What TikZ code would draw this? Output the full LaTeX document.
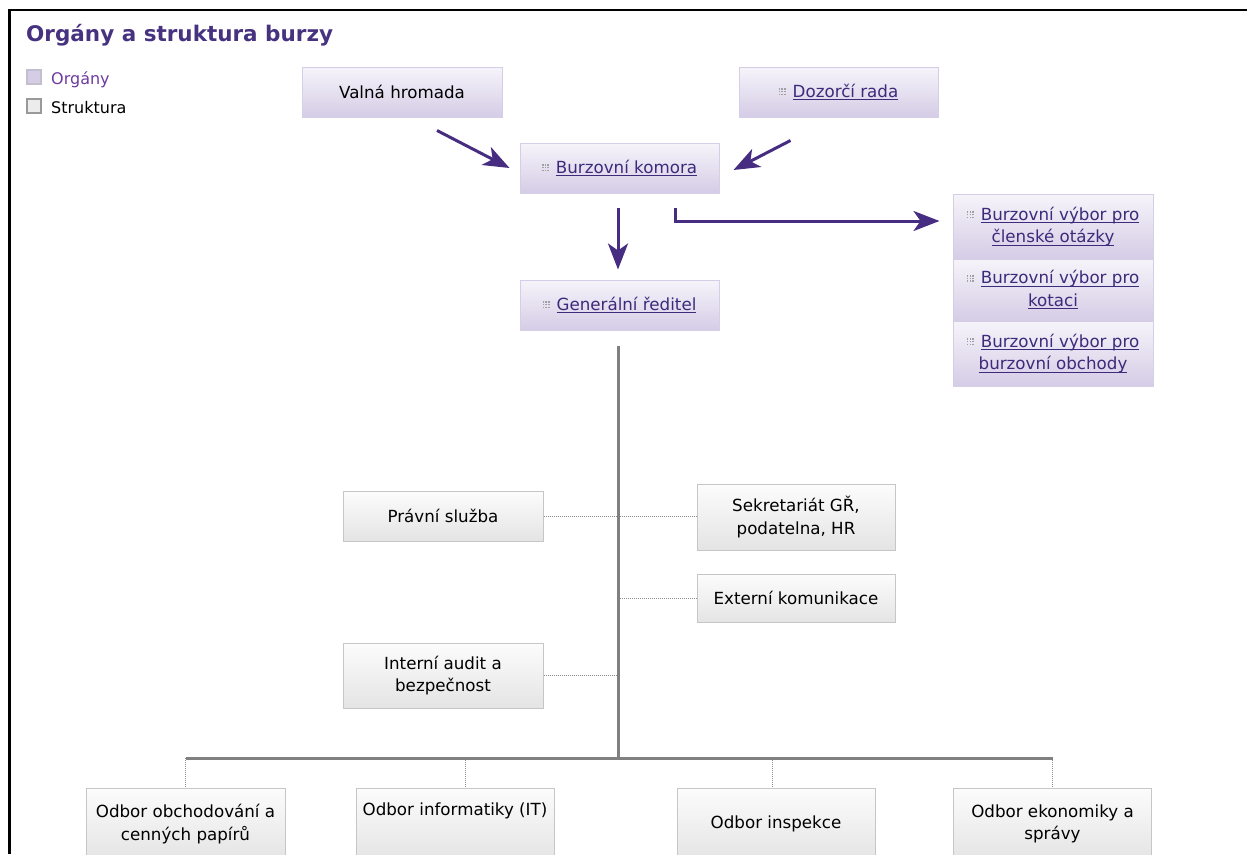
\documentclass[tikz,border=0pt]{standalone}
\usepackage{fontspec}
\setmainfont{DejaVu Sans}
\usetikzlibrary{arrows.meta,calc}
\definecolor{orgtop}{HTML}{F6F4FA}
\definecolor{orgbot}{HTML}{D5CCE6}
\definecolor{orgline}{HTML}{D6CEE6}
\definecolor{strtop}{HTML}{FCFCFC}
\definecolor{strbot}{HTML}{E4E4E4}
\definecolor{strline}{HTML}{C6C6C6}
\definecolor{arrc}{HTML}{472D82}
\definecolor{linkc}{HTML}{3D2A7A}
\definecolor{titlec}{HTML}{46327F}
\definecolor{legc}{HTML}{6E3A9E}
\definecolor{iconc}{HTML}{A0A0A0}
\definecolor{trunkc}{HTML}{808080}
\definecolor{dotc}{HTML}{8C8C8C}
\newcommand\bodyfont{\fontsize{16.7}{22.5}\selectfont}
\newcommand\legfont{\fontsize{16}{20}\selectfont}
\newcommand\gdot{\rule{1.6pt}{1.6pt}}
\newcommand\grow{\hbox{\gdot\kern1.1pt\gdot\kern1.1pt\gdot}}
\newcommand\gicon{\raisebox{2pt}{\textcolor{iconc}{\vbox{\offinterlineskip\grow\kern1.1pt\grow\kern1.1pt\grow}}}\hspace{7pt}}
\newcommand\lnk[1]{\textcolor{linkc}{\setbox0\hbox{#1}\rlap{\rule[-3pt]{\wd0}{1.1pt}}\box0}}
\begin{document}
\begin{tikzpicture}[x=1pt,y=-1pt,
  orgbox/.style={draw=orgline, line width=1pt, top color=orgtop, bottom color=orgbot,
    minimum width=199pt, minimum height=50pt, inner sep=0pt, align=center, font=\bodyfont},
  strbox/.style={draw=strline, line width=1pt, top color=strtop, bottom color=strbot,
    minimum width=199pt, minimum height=50pt, inner sep=0pt, align=center, font=\bodyfont},
  arr/.style={draw=arrc, line width=3pt, -{Stealth[length=26pt,width=20pt,inset=7pt]}},
  trunk/.style={draw=trunkc, line width=3pt},
  dotln/.style={draw=dotc, line width=1pt, dash pattern=on 1pt off 1pt},
  legsq/.style={minimum width=14pt, minimum height=14pt, inner sep=0pt, line width=1.2pt}]
\useasboundingbox (0,0) rectangle (1247,854);
\draw[line width=2.5pt] (9.5,854) -- (9.5,10) -- (1247,10);

\node[anchor=base west, inner sep=0pt, text=titlec, font=\fontsize{21.5}{25}\selectfont\bfseries] (title) at (26,41) {Orgány a struktura burzy};
\node[legsq, draw=orgbot!80!black!70, fill=orgbot] (lsq1) at (34,77) {};
\node[anchor=base west, inner sep=0pt, text=legc, font=\legfont] (leg1) at (51,84) {Orgány};
\node[legsq, draw=gray!80, fill=strbot!70] (lsq2) at (34,106) {};
\node[anchor=base west, inner sep=0pt, font=\legfont] (leg2) at (51,113) {Struktura};

% organs
\node[orgbox, minimum width=200pt] (valna) at (402,92) {Valná hromada};
\node[orgbox] (dozor) at (838.5,92) {\gicon\lnk{Dozorčí rada}};
\node[orgbox] (komora) at (619.5,168) {\gicon\lnk{Burzovní komora}};
\node[orgbox] (reditel) at (619.5,305) {\gicon\lnk{Generální ředitel}};
\node[orgbox, minimum width=200pt, minimum height=65pt] (vyb1) at (1053,226.5) {\gicon\lnk{Burzovní výbor pro}\\\lnk{členské otázky}};
\node[orgbox, minimum width=200pt, minimum height=62pt] (vyb2) at (1053,290) {\gicon\lnk{Burzovní výbor pro}\\\lnk{kotaci}};
\node[orgbox, minimum width=200pt, minimum height=65pt] (vyb3) at (1053,353.5) {\gicon\lnk{Burzovní výbor pro}\\\lnk{burzovní obchody}};

% arrows
\draw[arr] ($(valna.south)+(35,13)$) -- ($(komora.west)+(-10,0)$);
\draw[arr] ($(dozor.south)+(-48,23)$) -- ($(komora.east)+(14,2)$);
\draw[arr] ($(komora.south)+(-1.5,14)$) -- ($(reditel.north)+(-1.5,-10)$);
\draw[arr] ($(komora.south)+(55.5,14)$) |- ($(vyb1.west)+(-13,-5.5)$);

% structure
\node[strbox, minimum width=200pt] (pravni) at (443,516) {Právní služba};
\node[strbox, minimum width=198pt, minimum height=66pt] (sekret) at (796,517) {Sekretariát GŘ,\\podatelna, HR};
\node[strbox, minimum width=198pt, minimum height=48pt] (externi) at (796,598) {Externí komunikace};
\node[strbox, minimum width=200pt, minimum height=65pt] (interni) at (443,675.5) {Interní audit a\\bezpečnost};
\node[strbox, minimum height=72pt] (odb1) at (185.5,824) {Odbor obchodování a\\cenných papírů};
\node[strbox, minimum width=198pt, minimum height=72pt] (odb2) at (455,824) {Odbor informatiky (IT)\\\strut};
\node[strbox, minimum width=198pt, minimum height=72pt] (odb3) at (776,824) {Odbor inspekce};
\node[strbox, minimum width=198pt, minimum height=72pt] (odb4) at (1052.5,824) {Odbor ekonomiky a\\správy};

% trunk
\coordinate (t0) at ($(reditel.south)+(-1.5,15)$);
\coordinate (tb) at (t0 |- 0,758);
\draw[dotln] (pravni.east) -- (pravni.east -| sekret.west);
\draw[dotln] (externi.west -| t0) -- (externi.west);
\draw[dotln] (interni.east) -- (interni.east -| t0);
\draw[dotln] (odb1.north |- tb) -- (odb1.north);
\draw[dotln] ([xshift=10pt]odb2.north |- tb) -- ([xshift=10pt]odb2.north);
\draw[dotln] ([xshift=-4pt]odb3.north |- tb) -- ([xshift=-4pt]odb3.north);
\draw[dotln] (odb4.north |- tb) -- (odb4.north);
\draw[trunk] (t0) -- (tb);
\draw[trunk] (odb1.north |- tb) -- (odb4.north |- tb);
\end{tikzpicture}
\end{document}
